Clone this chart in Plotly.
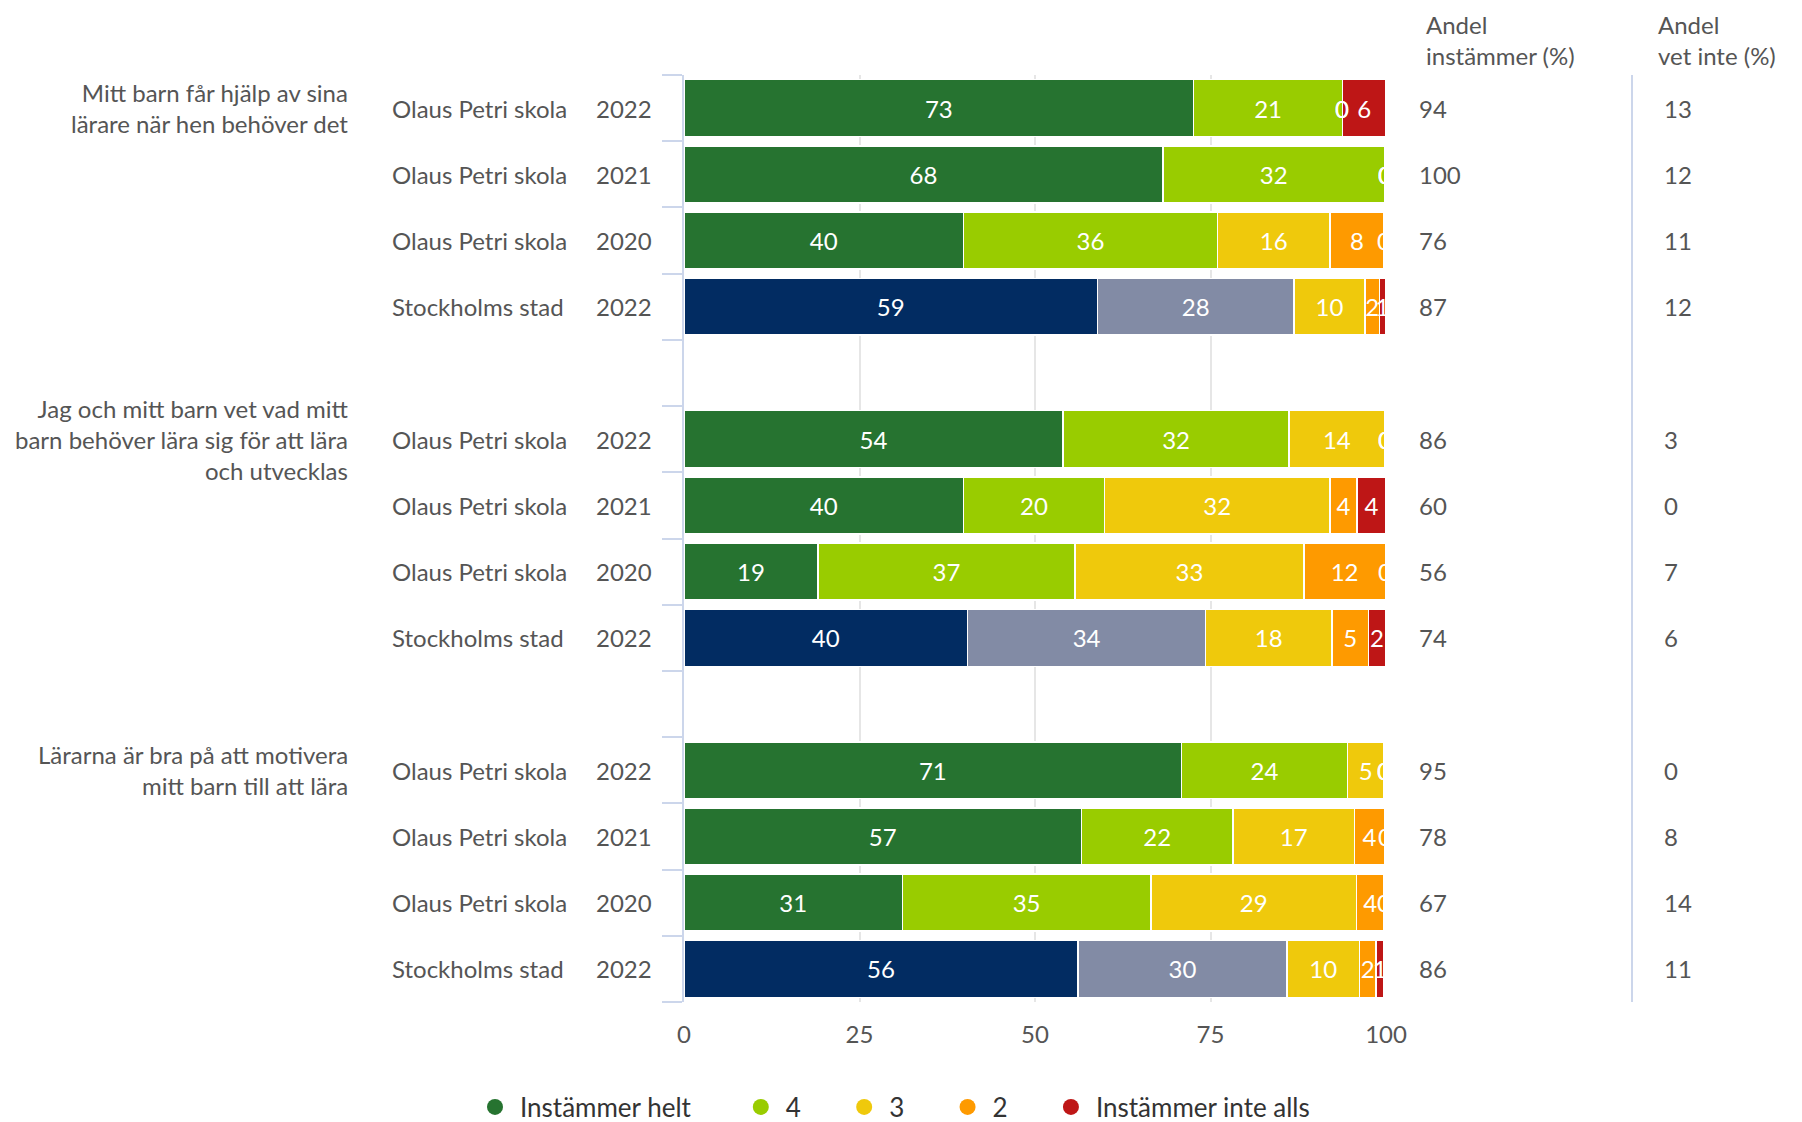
import plotly.graph_objects as go

# ---------------- data ----------------
questions = [
    "Mitt barn får hjälp av sina<br>lärare när hen behöver det",
    "Jag och mitt barn vet vad mitt<br>barn behöver lära sig för att lära<br>och utvecklas",
    "Lärarna är bra på att motivera<br>mitt barn till att lära",
]
units = ["Olaus Petri skola", "Olaus Petri skola", "Olaus Petri skola", "Stockholms stad"]
years = ["2022", "2021", "2020", "2022"]
categories = ["Instämmer helt", "4", "3", "2", "Instämmer inte alls"]

# one value per row (3 questions x 4 rows)
helt = [72.6, 68.2, 39.8, 58.9, 54.0, 39.8, 19.1, 40.4, 70.9, 56.6, 31.1, 56.1]
fyra = [21.2, 31.6, 36.2, 28.0, 32.2, 20.1, 36.6, 33.9, 23.6, 21.6, 35.4, 29.8]
tre = [0, 0, 16.0, 10.1, 13.6, 32.1, 32.6, 18.0, 5.2, 17.3, 29.3, 10.3]
tva = [0, 0, 7.7, 2.1, 0, 3.9, 11.6, 5.2, 0, 4.3, 3.9, 2.4]
inte = [6.2, 0, 0, 0.8, 0, 4.1, 0, 2.4, 0, 0, 0, 1.1]

andel_instammer = [94, 100, 76, 87, 86, 60, 56, 74, 95, 78, 67, 86]
andel_vet_inte = [13, 12, 11, 12, 3, 0, 7, 6, 0, 8, 14, 11]

# ---------------- styles ----------------
school_colors = ["#267330", "#99cc00", "#efc90c", "#fe9a00", "#be1616"]
city_colors = ["#022c62", "#828ba5", "#efc90c", "#fe9a00", "#be1616"]
FONT = "Lato"
TXT = "#555555"
FS = 24

# the page body adds an 8px offset; targets below are screenshot pixels
OFF = 8
W, H = 1802 - OFF, 1122 - OFF
PX0, PX1 = 684, 1386      # plot area x (screenshot px)
PY0, PY1 = 75, 1002       # plot area y (screenshot px)
L, R = PX0 - OFF, W - (PX1 - OFF)
T, B = PY0 - OFF, H - (PY1 - OFF)
PW, PH = PX1 - PX0, PY1 - PY0


def px_x(xpx):
    return (xpx - PX0) / PW


def px_y(ypx):
    return (PY1 - ypx) / PH


# slots: each question has 4 rows + one blank row between questions
slots = []
for g in range(len(questions)):
    for r in range(len(units)):
        slots.append(g * (len(units) + 1) + r)
n_slots = slots[-1] + 1
is_city = [units[i % len(units)] == "Stockholms stad" for i in range(len(slots))]

series = [helt, fyra, tre, tva, inte]

fig = go.Figure()
for ci, (name, vals) in enumerate(zip(categories, series)):
    colors = [city_colors[ci] if c else school_colors[ci] for c in is_city]
    fig.add_trace(go.Bar(
        x=vals, y=slots, orientation="h", name=name,
        marker=dict(color=colors, line=dict(color="white", width=1.5)),
        width=0.86,
        texttemplate="%{x:.0f}", textposition="inside", insidetextanchor="middle",
        textangle=0, textfont=dict(color="white", size=FS, family=FONT),
        showlegend=False, hoverinfo="skip",
    ))
for ci, name in enumerate(categories):
    # legend entry with round symbol (padding keeps the reference's item spacing)
    pad = 6 if len(name) > 1 else 5
    fig.add_trace(go.Scatter(
        x=[None], y=[None], mode="markers", name=name + "\u00a0" * pad,
        marker=dict(color=school_colors[ci], size=27, symbol="circle"),
        showlegend=True,
    ))

annotations = []
# labels for zero-width segments
for i, s in enumerate(slots):
    base = 0
    for ci, vals in enumerate(series):
        if vals[i] == 0:
            annotations.append(dict(x=base, y=s, xref="x", yref="y", text="0", showarrow=False,
                                    font=dict(color="white", size=FS, family=FONT)))
        base += vals[i]

# row labels
for i, s in enumerate(slots):
    r = i % len(units)
    annotations.append(dict(x=px_x(390), y=s, xref="paper", yref="y", text=units[r],
                            xanchor="left", showarrow=False, font=dict(color=TXT, size=FS, family=FONT)))
    annotations.append(dict(x=px_x(654), y=s, xref="paper", yref="y", text=years[r],
                            xanchor="right", showarrow=False, font=dict(color=TXT, size=FS, family=FONT)))
    annotations.append(dict(x=px_x(1417), y=s, xref="paper", yref="y", text=str(andel_instammer[i]),
                            xanchor="left", showarrow=False, font=dict(color=TXT, size=FS, family=FONT)))
    annotations.append(dict(x=px_x(1662), y=s, xref="paper", yref="y", text=str(andel_vet_inte[i]),
                            xanchor="left", showarrow=False, font=dict(color=TXT, size=FS, family=FONT)))

for g, q in enumerate(questions):
    annotations.append(dict(x=px_x(350), y=slots[g * len(units)], xref="paper", yref="y", text=q,
                            xanchor="right", yanchor="middle", align="right", showarrow=False,
                            font=dict(color=TXT, size=FS, family=FONT)))

annotations.append(dict(x=px_x(1424), y=px_y(40), xref="paper", yref="paper",
                        text="Andel<br>instämmer (%)", xanchor="left", yanchor="middle", align="left",
                        showarrow=False, font=dict(color=TXT, size=FS, family=FONT)))
annotations.append(dict(x=px_x(1656), y=px_y(40), xref="paper", yref="paper",
                        text="Andel<br>vet inte (%)", xanchor="left", yanchor="middle", align="left",
                        showarrow=False, font=dict(color=TXT, size=FS, family=FONT)))

fig.update_layout(
    width=W, height=H,
    barmode="stack",
    plot_bgcolor="white", paper_bgcolor="white",
    margin=dict(l=L, r=R, t=T, b=B, autoexpand=False),
    font=dict(family=FONT, size=FS, color=TXT),
    uniformtext=dict(mode="show", minsize=FS),
    annotations=annotations,
    shapes=[dict(type="line", xref="paper", yref="paper", x0=px_x(1632), x1=px_x(1632), y0=0, y1=1,
                 line=dict(color="#ccd6eb", width=2))],
    legend=dict(orientation="h", traceorder="normal", x=px_x(470), xanchor="left",
                y=px_y(1107), yanchor="middle", itemwidth=40,
                font=dict(size=26, family=FONT, color="#333333"), itemclick=False),
    xaxis=dict(range=[0, 100], tickvals=[0, 25, 50, 75, 100], showgrid=True, gridcolor="#e6e6e6",
               gridwidth=1.5, zeroline=False, showline=False, ticks="", ticklabelstandoff=16,
               tickfont=dict(size=FS, family=FONT, color=TXT), fixedrange=True),
    yaxis=dict(range=[n_slots - 0.5, -0.5], tickvals=[k - 0.5 for k in range(n_slots + 1)],
               ticktext=["" for _ in range(n_slots + 1)], ticks="outside", ticklen=20, tickwidth=2,
               tickcolor="#ccd6eb", showgrid=False, zeroline=False, showline=True, linecolor="#ccd6eb",
               linewidth=2, fixedrange=True),
)

fig.write_html("out.html")
